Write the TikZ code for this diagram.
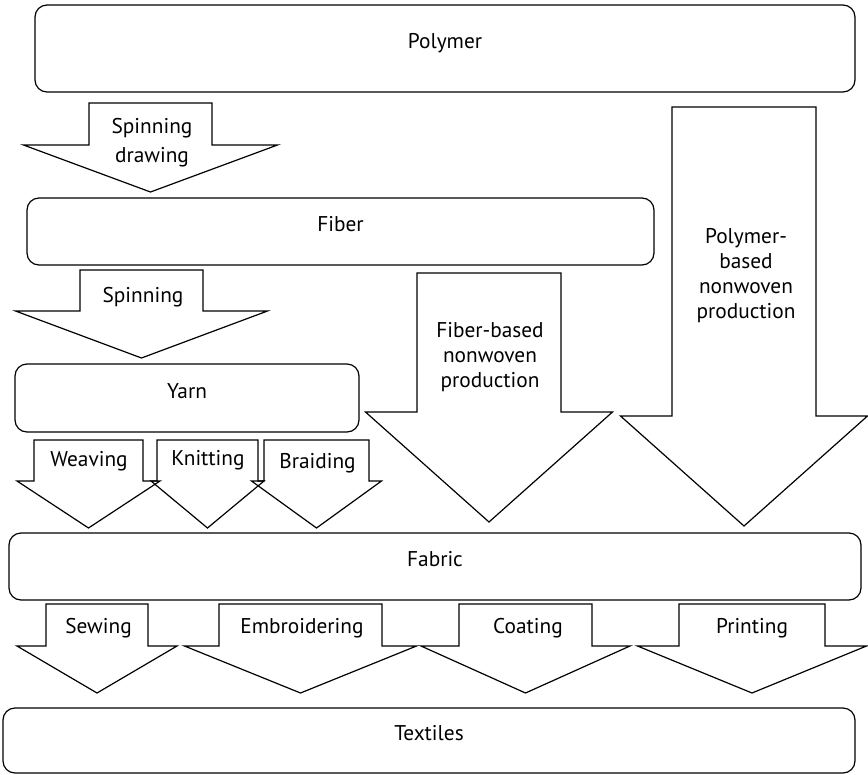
\documentclass[tikz,border=0pt]{standalone}
\usepackage{fontspec}
\setmainfont{PT Sans}
% block arrow pointing down: centre x, half shaft, half head, top, head line, tip
\newcommand{\downblock}[6]{%
  \draw[line join=miter] (#1-#2,#4) -- (#1+#2,#4) -- (#1+#2,#5) -- (#1+#3,#5)
    -- (#1,#6) -- (#1-#3,#5) -- (#1-#2,#5) -- cycle;}
\begin{document}
\begin{tikzpicture}[x=0.75pt,y=-0.75pt,line width=0.9pt,
  box/.style={draw, rounded corners=9pt, inner sep=0pt, text height=8pt, text depth=8pt,
    font=\fontsize{16}{18.75}\selectfont},
  lbl/.style={align=center, anchor=base, inner sep=0pt, font=\fontsize{16}{18.75}\selectfont}]
\useasboundingbox (0,0) rectangle (868,775);

% materials
\node[box, minimum width=615pt, minimum height=65.25pt] (polymer) at (445,48.5) {Polymer};
\node[box, minimum width=470.25pt, minimum height=50.25pt] (fiber) at (340.5,231.5) {Fiber};
\node[box, minimum width=258pt, minimum height=51pt] (yarn) at (187,398) {Yarn};
\node[box, minimum width=639pt, minimum height=50.25pt] (fabric) at (435,566.5) {Fabric};
\node[box, minimum width=639pt, minimum height=48.75pt] (textiles) at (429,740.5) {Textiles};

% processes (label anchor = baseline of last line)
\downblock{150.5}{61.5}{127}{103}{145}{192}
\node[lbl] (spindraw) at (152,162) {Spinning\\[3pt]drawing};
\downblock{141.5}{61.5}{126}{270}{311}{358}
\node[lbl] (spin) at (143,302) {Spinning};
\downblock{489}{72}{123.5}{273}{412}{522}
\node[lbl] (fibnw) at (490,387) {Fiber-based\\nonwoven\\production};
\downblock{744}{72}{123.5}{107}{416}{526}
\node[lbl] (polnw) at (746,318) {Polymer-\\based\\nonwoven\\production};

\downblock{88.5}{54.5}{71.5}{440}{481}{528}
\node[lbl] (weave) at (89,466) {Weaving};
\downblock{207.5}{50.5}{56.5}{440}{481}{528}
\node[lbl] (knit) at (208,465) {Knitting};
\downblock{316.5}{52.5}{65}{440}{481}{528}
\node[lbl] (braid) at (317.5,468) {Braiding};

\downblock{97}{51}{80}{604}{646}{693}
\node[lbl] (sew) at (98.5,633) {Sewing};
\downblock{300.5}{81.5}{116}{604}{646}{693}
\node[lbl] (embr) at (302,633) {Embroidering};
\downblock{525.5}{66.5}{104.5}{604}{646}{693}
\node[lbl] (coat) at (528,633) {Coating};
\downblock{752}{73}{114.5}{604}{646}{693}
\node[lbl] (print) at (752,633) {Printing};
\end{tikzpicture}
\end{document}
